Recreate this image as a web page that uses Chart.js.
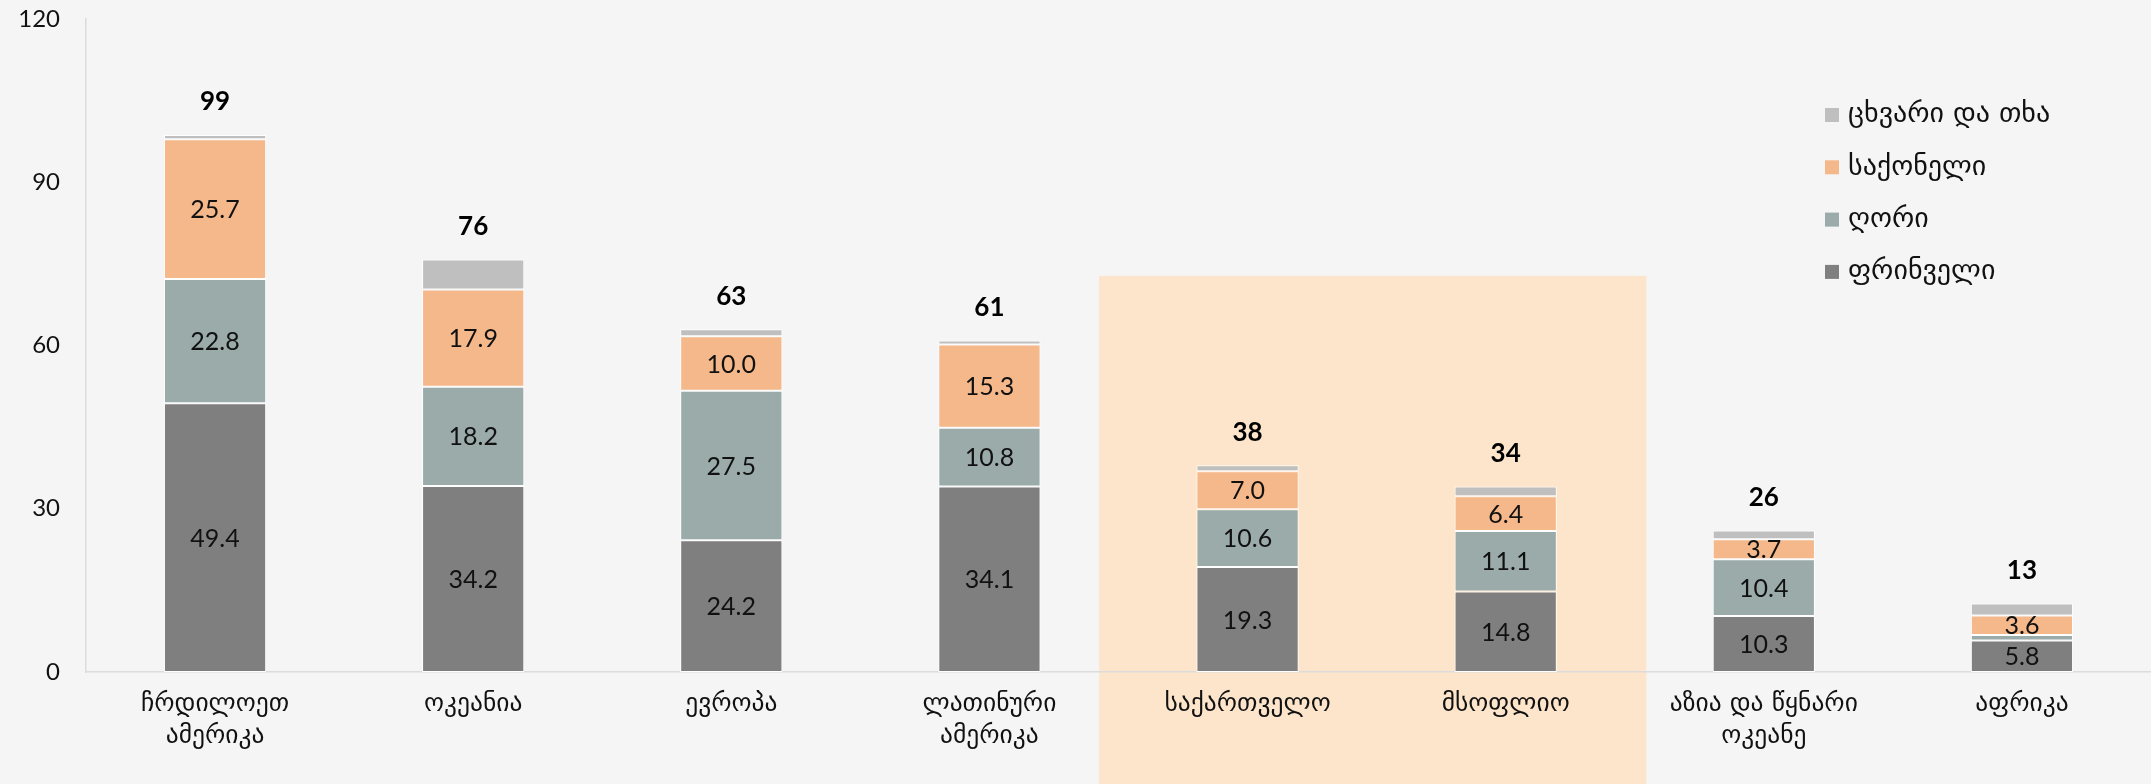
<!DOCTYPE html>
<html>
<head>
<meta charset="utf-8">
<script src="https://cdn.jsdelivr.net/npm/chart.js@4.4.1/dist/chart.umd.min.js"></script>
<style>
  html, body { margin: 0; padding: 0; background: #f5f5f5; }
  #wrap { width: 2151px; height: 784px; position: relative; }
</style>
</head>
<body>
<div id="wrap"><canvas id="c"></canvas></div>
<script>
// ---- data ----
const categories = [
  ['ჩრდილოეთ', 'ამერიკა'],
  'ოკეანია',
  'ევროპა',
  ['ლათინური', 'ამერიკა'],
  'საქართველო',
  'მსოფლიო',
  ['აზია და წყნარი', 'ოკეანე'],
  'აფრიკა'
];
const seriesNames = ['ფრინველი', 'ღორი', 'საქონელი', 'ცხვარი და თხა'];
const poultry = [49.4, 34.2, 24.2, 34.1, 19.3, 14.8, 10.3, 5.8];
const pig     = [22.8, 18.2, 27.5, 10.8, 10.6, 11.1, 10.4, 1.0];
const cattle  = [25.7, 17.9, 10.0, 15.3, 7.0, 6.4, 3.7, 3.6];
const sheep   = [0.8, 5.5, 1.3, 0.7, 1.1, 1.8, 1.6, 2.2];
const yTicks  = [0, 30, 60, 90, 120];
const highlighted = [4, 5]; // საქართველო, მსოფლიო

const colors = ['#7f7f7f', '#9aabaa', '#f4b88b', '#bfbfbf'];
const NUM_FONT = "Lato, 'DejaVu Sans', sans-serif";
const GEO_FONT = "'DejaVu Sans', sans-serif";
const LEG_FONT = "'DejaVu Sans', sans-serif";

const bgPlugin = {
  id: 'bgBand',
  beforeDraw(chart) {
    const { ctx, width, height, scales: { x, y } } = chart;
    ctx.save();
    ctx.fillStyle = '#f5f5f5';
    ctx.fillRect(0, 0, width, height);
    const step = x.getPixelForValue(1) - x.getPixelForValue(0);
    const left = x.getPixelForValue(highlighted[0]) - 0.575 * step;
    const right = x.getPixelForValue(highlighted[highlighted.length - 1]) + 0.545 * step;
    const top = y.getPixelForValue(72.8);
    ctx.fillStyle = '#fce5cb';
    ctx.fillRect(left, top, right - left, height - top);
    ctx.restore();
  }
};

const labelPlugin = {
  id: 'valueLabels',
  afterDatasetsDraw(chart) {
    const { ctx } = chart;
    ctx.save();
    ctx.textAlign = 'center';
    ctx.textBaseline = 'middle';
    ctx.fillStyle = '#111';
    ctx.font = "25px " + NUM_FONT;
    for (let d = 0; d < 3; d++) {
      const meta = chart.getDatasetMeta(d);
      meta.data.forEach((bar, i) => {
        const v = chart.data.datasets[d].data[i];
        if (v < 3) return;
        const cy = (bar.y + bar.base) / 2;
        ctx.fillText(v.toFixed(1), bar.x, cy + 1);
      });
    }
    // totals
    ctx.font = "bold 26px " + NUM_FONT;
    ctx.fillStyle = '#000';
    const n = chart.data.labels.length;
    const last = chart.getDatasetMeta(chart.data.datasets.length - 1);
    for (let i = 0; i < n; i++) {
      let total = 0;
      chart.data.datasets.forEach(ds => total += ds.data[i]);
      const bar = last.data[i];
      ctx.fillText(String(Math.round(total)), bar.x, bar.y - 33);
    }
    ctx.restore();
  }
};

const legendPlugin = {
  id: 'customLegend',
  afterDraw(chart) {
    const { ctx } = chart;
    const ds = chart.data.datasets;
    ctx.save();
    ctx.font = "28px " + LEG_FONT;
    ctx.textBaseline = 'middle';
    ctx.textAlign = 'left';
    for (let k = 0; k < ds.length; k++) {
      const d = ds[ds.length - 1 - k];
      const cy = 115 + 52.3 * k;
      ctx.fillStyle = d.backgroundColor;
      ctx.fillRect(1825, cy - 7, 14, 14);
      ctx.fillStyle = '#111';
      ctx.fillText(d.label, 1848, cy);
    }
    ctx.restore();
  }
};

const datasets = [poultry, pig, cattle, sheep].map((arr, i) => ({
  label: seriesNames[i],
  data: arr,
  backgroundColor: colors[i],
  borderColor: '#ffffff',
  borderWidth: 1,
  borderSkipped: false,
  categoryPercentage: 1,
  barPercentage: 0.396
}));

new Chart(document.getElementById('c'), {
  type: 'bar',
  data: { labels: categories, datasets },
  plugins: [bgPlugin, labelPlugin, legendPlugin],
  options: {
    responsive: true,
    maintainAspectRatio: false,
    animation: false,
    layout: { padding: { top: 19, right: -5, left: 0, bottom: 0 } },
    plugins: { legend: { display: false }, tooltip: { enabled: false } },
    scales: {
      x: {
        stacked: true,
        grid: { display: false, drawTicks: false },
        border: { display: true, color: '#dcdcdc', width: 1.5 },
        ticks: {
          color: '#111',
          font: { family: GEO_FONT, size: 25.5, lineHeight: 1.24 },
          padding: 17,
          maxRotation: 0,
          autoSkip: false
        },
        afterFit(s) { s.height = 112; }
      },
      y: {
        stacked: true,
        min: 0,
        max: 120,
        afterBuildTicks(s) { s.ticks = yTicks.map(v => ({ value: v })); },
        grid: { display: false, drawTicks: false },
        border: { display: true, color: '#dcdcdc', width: 1.5 },
        ticks: {
          color: '#111',
          font: { family: NUM_FONT, size: 24 },
          padding: 26
        },
        afterFit(s) { s.width = 86; s.paddingTop = 0; s.paddingBottom = 0; }
      }
    }
  }
});
</script>
</body>
</html>
